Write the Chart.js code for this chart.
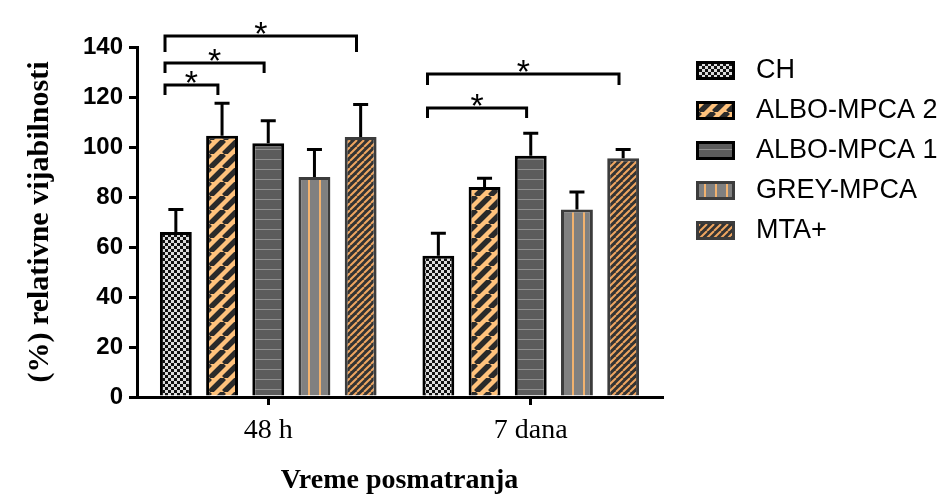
<!DOCTYPE html>
<html>
<head>
<meta charset="utf-8">
<script src="https://cdn.jsdelivr.net/npm/chart.js@4.4.1/dist/chart.umd.min.js"></script>
<style>
  html, body { margin: 0; padding: 0; background: #fff; }
  #wrap { width: 948px; height: 495px; }
</style>
</head>
<body>
<div id="wrap"><canvas id="chart"></canvas></div>
<script>
// observation times and groups
const categories = ["48 h", "7 dana"];
const seriesNames = ["CH", "ALBO-MPCA 2", "ALBO-MPCA 1", "GREY-MPCA", "MTA+"];

// mean relative viability (%) per group
const chValues = [66, 56.5];
const albo2Values = [104.5, 84];
const albo1Values = [101.5, 96.5];
const greyValues = [88, 75];
const mtaValues = [104, 95.5];

// upper error (SD) per group
const chErrors = [9, 9];
const albo2Errors = [13, 3.5];
const albo1Errors = [9, 9];
const greyErrors = [11, 7];
const mtaErrors = [13, 3.5];

const yTicks = [0, 20, 40, 60, 80, 100, 120, 140];

// significance brackets: category index, from series, to series, bar level, foot level
const bracketGroup = [0, 0, 0, 1, 1];
const bracketFrom = [0, 0, 0, 0, 0];
const bracketTo = [1, 2, 4, 2, 4];
const bracketTop = [124.8, 133.6, 144.4, 115.6, 129.2];
const bracketFoot = [120.8, 129.6, 138, 111.6, 124.8];
const bracketLabels = ["*", "*", "*", "*", "*"];

function makePattern(size, draw) {
  const c = document.createElement("canvas");
  c.width = size;
  c.height = size;
  const g = c.getContext("2d");
  draw(g, size);
  return g.createPattern(c, "repeat");
}

function diagonal(g, s, bg, fg, w) {
  g.fillStyle = bg;
  g.fillRect(0, 0, s, s);
  g.strokeStyle = fg;
  g.lineWidth = w;
  g.beginPath();
  for (const k of [-s, 0, s]) {
    g.moveTo(k, s);
    g.lineTo(k + s, 0);
  }
  g.stroke();
}

const checkerFill = makePattern(6, (g) => {
  g.fillStyle = "#dcdcdc";
  g.fillRect(0, 0, 6, 6);
  g.fillStyle = "#111";
  g.fillRect(0, 0, 3, 3);
  g.fillRect(3, 3, 3, 3);
});
const orangeStripeFill = makePattern(14, (g, s) => diagonal(g, s, "#ffc27c", "#2a2a2a", 5.5));
const darkLinedFill = makePattern(10, (g) => {
  g.fillStyle = "#5c5c5c";
  g.fillRect(0, 0, 10, 10);
  g.fillStyle = "#8e8e8e";
  g.fillRect(0, 9, 10, 1);
});
const greyVerticalFill = makePattern(11, (g) => {
  g.fillStyle = "#808080";
  g.fillRect(0, 0, 11, 11);
  g.fillStyle = "#f2b26e";
  g.fillRect(0, 0, 2, 11);
});
const darkHatchFill = makePattern(7, (g, s) => diagonal(g, s, "#333333", "#eea560", 2));

const fills = [checkerFill, orangeStripeFill, darkLinedFill, greyVerticalFill, darkHatchFill];
const borders = ["#000", "#000", "#000", "#3c3c3c", "#3c3c3c"];
const values = [chValues, albo2Values, albo1Values, greyValues, mtaValues];
const errors = [chErrors, albo2Errors, albo1Errors, greyErrors, mtaErrors];

const datasets = seriesNames.map((name, i) => ({
  label: name,
  data: values[i],
  errors: errors[i],
  backgroundColor: fills[i],
  borderColor: borders[i],
  borderWidth: 3,
  borderSkipped: "bottom",
  categoryPercentage: 0.88,
  barPercentage: 0.69,
}));

const errorBars = {
  id: "errorBars",
  afterDatasetsDraw(chart, args, opts) {
    const { ctx } = chart;
    const y = chart.scales.y;
    ctx.save();
    ctx.strokeStyle = "#000";
    ctx.lineWidth = 3;
    chart.data.datasets.forEach((ds, i) => {
      chart.getDatasetMeta(i).data.forEach((bar, j) => {
        const top = y.getPixelForValue(ds.data[j] + ds.errors[j]);
        ctx.beginPath();
        ctx.moveTo(bar.x, bar.y);
        ctx.lineTo(bar.x, top);
        ctx.moveTo(bar.x - opts.cap / 2, top);
        ctx.lineTo(bar.x + opts.cap / 2, top);
        ctx.stroke();
      });
    });
    ctx.restore();
  },
};

const brackets = {
  id: "brackets",
  afterDatasetsDraw(chart) {
    const { ctx } = chart;
    const y = chart.scales.y;
    ctx.save();
    ctx.strokeStyle = "#000";
    ctx.fillStyle = "#000";
    ctx.lineWidth = 3;
    ctx.font = "34px 'Liberation Sans', Arial, sans-serif";
    ctx.textAlign = "center";
    ctx.textBaseline = "alphabetic";
    bracketGroup.forEach((g, k) => {
      const a = chart.getDatasetMeta(bracketFrom[k]).data[g];
      const b = chart.getDatasetMeta(bracketTo[k]).data[g];
      const x1 = a.x - a.width * 0.34;
      const x2 = b.x - b.width * 0.13;
      const yt = y.getPixelForValue(bracketTop[k]);
      const yf = y.getPixelForValue(bracketFoot[k]);
      ctx.beginPath();
      ctx.moveTo(x1, yf);
      ctx.lineTo(x1, yt);
      ctx.lineTo(x2, yt);
      ctx.lineTo(x2, yf);
      ctx.stroke();
      ctx.fillText(bracketLabels[k], (x1 + x2) / 2, yt + 9);
    });
    ctx.restore();
  },
};

// legend with the same pattern swatches, placed right of the plot
const swatchLegend = {
  id: "swatchLegend",
  afterDraw(chart) {
    const { ctx, chartArea } = chart;
    const left = chartArea.right + 34;
    ctx.save();
    ctx.font = "27px 'Liberation Sans', Arial, sans-serif";
    ctx.textBaseline = "middle";
    ctx.textAlign = "left";
    chart.data.datasets.forEach((ds, i) => {
      const top = chartArea.top + 14 + i * 40;
      ctx.fillStyle = ds.backgroundColor;
      ctx.fillRect(left, top, 39, 19);
      ctx.strokeStyle = ds.borderColor;
      ctx.lineWidth = 3;
      ctx.strokeRect(left + 1.5, top + 1.5, 36, 16);
      ctx.fillStyle = "#000";
      ctx.fillText(ds.label, left + 60, top + 10);
    });
    ctx.restore();
  },
};

new Chart(document.getElementById("chart"), {
  type: "bar",
  data: { labels: categories, datasets: datasets },
  plugins: [errorBars, brackets, swatchLegend],
  options: {
    responsive: true,
    maintainAspectRatio: false,
    animation: false,
    layout: { padding: { top: 47, right: 286, bottom: 0, left: 0 } },
    plugins: {
      legend: { display: false },
      tooltip: { enabled: false },
      errorBars: { cap: 15 },
    },
    scales: {
      x: {
        z: 1,
        grid: {
          offset: false,
          drawOnChartArea: false,
          tickLength: 8,
          lineWidth: 3,
          color: "#000",
        },
        border: { color: "#000", width: 3 },
        ticks: {
          color: "#000",
          padding: 9,
          font: { family: "'Liberation Serif', 'Times New Roman', serif", size: 28 },
        },
        title: {
          display: true,
          text: "Vreme posmatranja",
          color: "#000",
          padding: { top: 0, bottom: -3 },
          font: { family: "'Liberation Serif', 'Times New Roman', serif", size: 28, weight: "bold" },
        },
        afterFit(scale) { scale.height = 98; },
      },
      y: {
        z: 1,
        min: 0,
        max: 140,
        afterBuildTicks(scale) { scale.ticks = yTicks.map((v) => ({ value: v })); },
        grid: {
          drawOnChartArea: false,
          tickLength: 8,
          lineWidth: 3,
          color: "#000",
        },
        border: { color: "#000", width: 3 },
        ticks: {
          color: "#000",
          padding: 6,
          font: { family: "'Liberation Sans', Arial, sans-serif", size: 24, weight: "bold" },
        },
        title: {
          display: true,
          text: "(%) relativne vijabilnosti",
          color: "#000",
          padding: { top: 22, bottom: 0 },
          font: { family: "'Liberation Serif', 'Times New Roman', serif", size: 30, weight: "bold" },
        },
        afterFit(scale) { scale.width = 137; },
      },
    },
  },
});
</script>
</body>
</html>
